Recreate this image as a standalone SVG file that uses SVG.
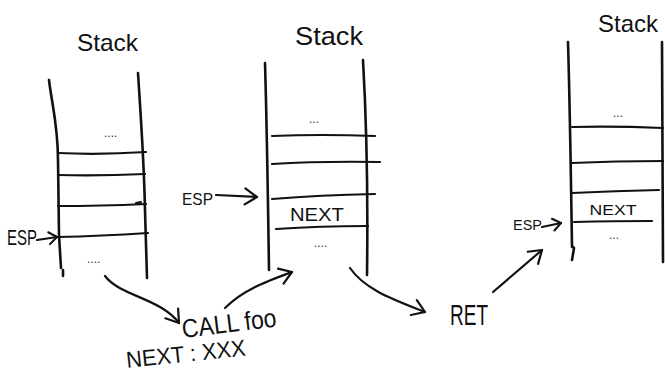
<svg xmlns="http://www.w3.org/2000/svg" width="665" height="376" viewBox="0 0 665 376">
<defs>
<style>
.ln{fill:none;stroke:#111;stroke-width:2.6;stroke-linecap:round;stroke-linejoin:round}
.hl{fill:none;stroke:#111;stroke-width:2.2;stroke-linecap:round}
.ar{fill:none;stroke:#111;stroke-width:2.2;stroke-linecap:round;stroke-linejoin:round}
.t{font-family:"Liberation Sans","DejaVu Sans",sans-serif;fill:#111}
.d{font-family:"Liberation Sans",sans-serif;fill:#333;font-size:12px}
</style>
<marker id="ah" viewBox="0 0 16 18" refX="14" refY="9" markerWidth="16" markerHeight="18" markerUnits="userSpaceOnUse" orient="auto" overflow="visible">
<path d="M2,1 L14,9 L2,17" fill="none" stroke="#111" stroke-width="2.2" stroke-linecap="round" stroke-linejoin="round"/>
</marker>
<marker id="as" viewBox="0 0 12 14" refX="10" refY="7" markerWidth="12" markerHeight="14" markerUnits="userSpaceOnUse" orient="auto" overflow="visible">
<path d="M2,1 L10,7 L2,13" fill="none" stroke="#111" stroke-width="2" stroke-linecap="round" stroke-linejoin="round"/>
</marker>
</defs>
<rect width="665" height="376" fill="#fff"/>

<g id="stack1">
<text class="t" x="77" y="51" font-size="24" textLength="61" lengthAdjust="spacingAndGlyphs">Stack</text>
<path class="ln" d="M49,80 C52,105 58,125 58,160 L59,235 L61,268 M63,270 L63,276"/>
<path class="ln" d="M138,73 C141,120 144,160 145,210 L147,278"/>
<path class="hl" d="M58,153 Q100,155 146,152"/>
<path class="hl" d="M58,175 Q100,176 145,174"/>
<path class="hl" d="M58,206 Q100,206 146,204 M136,203 L141,202"/>
<path class="hl" d="M58,237 Q100,236 148,233"/>
<text class="d" x="104" y="137">....</text>
<text class="d" x="87" y="263">....</text>
<text class="t" x="7" y="245" font-size="22" textLength="30" lengthAdjust="spacingAndGlyphs">ESP</text>
</g>

<g id="stack2">
<text class="t" x="295" y="45" font-size="25" textLength="68" lengthAdjust="spacingAndGlyphs">Stack</text>
<path class="ln" d="M265,63 C267,130 268,200 269,270"/>
<path class="ln" d="M363,60 C367,130 368,200 367,275"/>
<path class="hl" d="M272,136 Q320,134 375,136"/>
<path class="hl" d="M272,164 Q320,161 380,162"/>
<path class="hl" d="M272,199 Q320,195 375,194"/>
<path class="hl" d="M276,229 Q320,226 368,226"/>
<text class="t" x="317" y="221" font-size="18" text-anchor="middle" textLength="54" lengthAdjust="spacingAndGlyphs">NEXT</text>
<text class="d" x="309" y="123">...</text>
<text class="d" x="314" y="247">....</text>
<text class="t" x="182" y="205" font-size="17" textLength="31" lengthAdjust="spacingAndGlyphs">ESP</text>
</g>

<g id="stack3">
<text class="t" x="598" y="32" font-size="24" textLength="60" lengthAdjust="spacingAndGlyphs">Stack</text>
<path class="ln" d="M568,42 C570,110 571,180 572,247 M572,246 L574,248 L572,260"/>
<path class="ln" d="M662,42 L663,262"/>
<path class="hl" d="M572,127 Q615,126 663,128"/>
<path class="hl" d="M572,163 Q615,161 663,161"/>
<path class="hl" d="M572,193 Q615,191 659,190"/>
<path class="hl" d="M574,222 Q615,221 652,221"/>
<text class="t" x="613" y="215" font-size="15" text-anchor="middle" textLength="47" lengthAdjust="spacingAndGlyphs">NEXT</text>
<text class="d" x="613" y="117">...</text>
<text class="d" x="609" y="239">...</text>
<text class="t" x="513" y="230" font-size="14" textLength="29" lengthAdjust="spacingAndGlyphs">ESP</text>
</g>

<g id="call">
<text class="t" x="183" y="338" font-size="26" transform="rotate(-7 183 338)" textLength="95" lengthAdjust="spacingAndGlyphs">CALL foo</text>
<text class="t" x="127" y="368" font-size="23" transform="rotate(-6 127 368)" textLength="120" lengthAdjust="spacingAndGlyphs">NEXT : XXX</text>
</g>

<g id="ret">
<text class="t" x="450" y="325" font-size="29" textLength="38" lengthAdjust="spacingAndGlyphs">RET</text>
</g>

<g id="connectors">
<path class="ar" d="M37,240 L57,237" marker-end="url(#as)"/>
<path class="ar" d="M216,195 L257,197" marker-end="url(#ah)"/>
<path class="ar" d="M542,227 L561,223" marker-end="url(#as)"/>
<path class="ar" d="M105,276 C120,296 160,298 179,323" marker-end="url(#ah)"/>
<path class="ar" d="M225,308 C243,290 265,282 292,272" marker-end="url(#ah)"/>
<path class="ar" d="M350,268 C365,290 395,300 425,312" marker-end="url(#ah)"/>
<path class="ar" d="M493,292 L542,250" marker-end="url(#ah)"/>
</g>
</svg>
